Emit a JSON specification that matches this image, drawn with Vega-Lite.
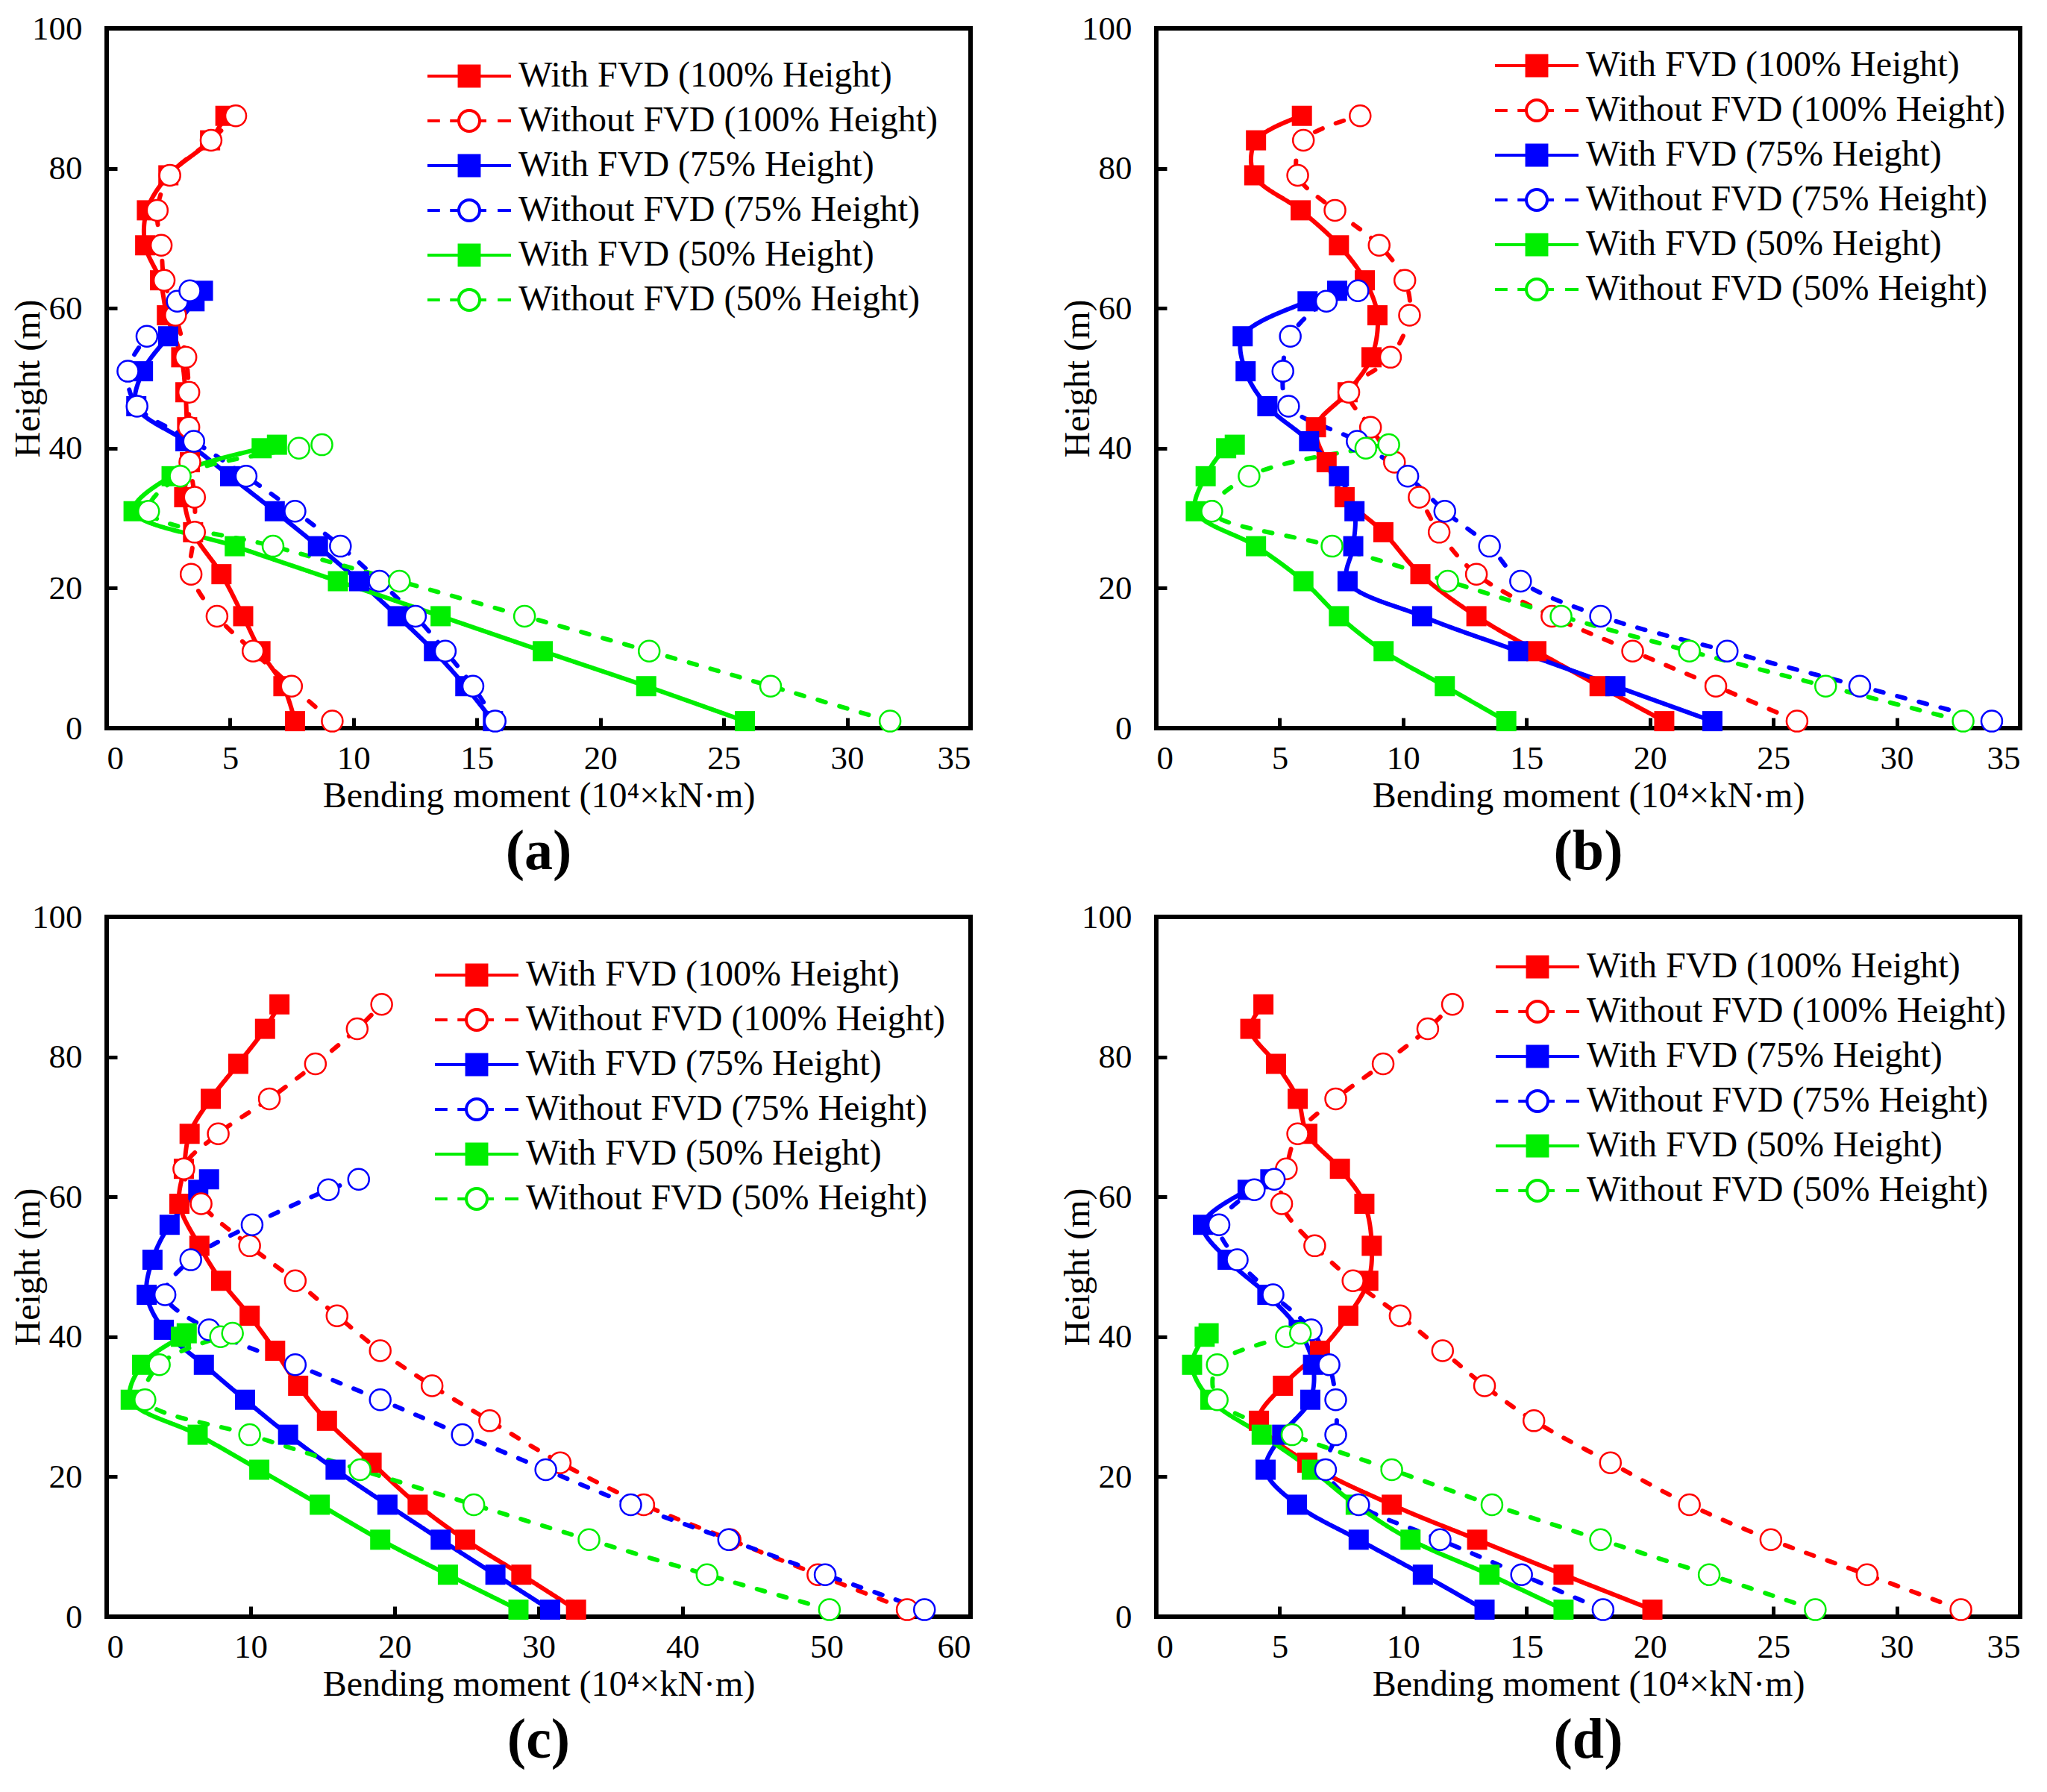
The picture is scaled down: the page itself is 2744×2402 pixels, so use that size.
{
  "$schema": "https://vega.github.io/schema/vega-lite/v6.json",
  "description": "Bending moment along height, with and without FVD, four cases",
  "background": "white",
  "padding": {"left": 11, "top": 13, "right": 5, "bottom": 5},
  "config": {
    "view": {"stroke": "black", "strokeWidth": 6},
    "axis": {
      "domain": false, "grid": false,
      "labelFont": "Liberation Serif", "labelFontSize": 45, "labelColor": "black",
      "titleFont": "Liberation Serif", "titleFontSize": 48, "titleFontWeight": "normal", "titleColor": "black",
      "tickColor": "black", "tickWidth": 5, "tickSize": -14
    },
    "axisX": {"labelPadding": 32, "titlePadding": 4},
    "axisY": {"labelPadding": 47, "titlePadding": -20},
    "legend": {
      "labelFont": "Liberation Serif", "labelFontSize": 48, "labelColor": "black", "labelLimit": 0,
      "symbolSize": 12544, "symbolStrokeWidth": 4, "symbolOpacity": 1,
      "labelOffset": 8, "clipHeight": 34, "rowPadding": 12
    },
    "title": {"font": "Liberation Serif", "fontSize": 76, "fontWeight": "bold", "color": "black", "orient": "bottom", "anchor": "middle", "offset": 14}
  },
  "data": {"values": [
    {"p":"a","k":"W100","h":1,"m":7.63},{"p":"a","k":"W100","h":6,"m":7.16},{"p":"a","k":"W100","h":11,"m":6.23},{"p":"a","k":"W100","h":16,"m":5.53},{"p":"a","k":"W100","h":22,"m":4.65},{"p":"a","k":"W100","h":28,"m":3.5},{"p":"a","k":"W100","h":33,"m":3.14},{"p":"a","k":"W100","h":38,"m":3.37},{"p":"a","k":"W100","h":43,"m":3.26},{"p":"a","k":"W100","h":48,"m":3.19},{"p":"a","k":"W100","h":53,"m":3.02},{"p":"a","k":"W100","h":59,"m":2.44},{"p":"a","k":"W100","h":64,"m":2.16},{"p":"a","k":"W100","h":69,"m":1.56},{"p":"a","k":"W100","h":74,"m":1.63},{"p":"a","k":"W100","h":79,"m":2.5},{"p":"a","k":"W100","h":84,"m":4.19},{"p":"a","k":"W100","h":87.5,"m":4.81},
    {"p":"a","k":"N100","h":1,"m":9.14},{"p":"a","k":"N100","h":6,"m":7.49},{"p":"a","k":"N100","h":11,"m":5.93},{"p":"a","k":"N100","h":16,"m":4.47},{"p":"a","k":"N100","h":22,"m":3.42},{"p":"a","k":"N100","h":28,"m":3.56},{"p":"a","k":"N100","h":33,"m":3.56},{"p":"a","k":"N100","h":38,"m":3.37},{"p":"a","k":"N100","h":43,"m":3.33},{"p":"a","k":"N100","h":48,"m":3.33},{"p":"a","k":"N100","h":53,"m":3.21},{"p":"a","k":"N100","h":59,"m":2.79},{"p":"a","k":"N100","h":64,"m":2.33},{"p":"a","k":"N100","h":69,"m":2.21},{"p":"a","k":"N100","h":74,"m":2.05},{"p":"a","k":"N100","h":79,"m":2.56},{"p":"a","k":"N100","h":84,"m":4.23},{"p":"a","k":"N100","h":87.5,"m":5.23},
    {"p":"a","k":"W75","h":1,"m":15.65},{"p":"a","k":"W75","h":6,"m":14.53},{"p":"a","k":"W75","h":11,"m":13.26},{"p":"a","k":"W75","h":16,"m":11.79},{"p":"a","k":"W75","h":21,"m":10.23},{"p":"a","k":"W75","h":26,"m":8.56},{"p":"a","k":"W75","h":31,"m":6.81},{"p":"a","k":"W75","h":36,"m":5.0},{"p":"a","k":"W75","h":41,"m":3.19},{"p":"a","k":"W75","h":46,"m":1.2},{"p":"a","k":"W75","h":51,"m":1.47},{"p":"a","k":"W75","h":56,"m":2.49},{"p":"a","k":"W75","h":61,"m":3.56},{"p":"a","k":"W75","h":62.5,"m":3.9},
    {"p":"a","k":"N75","h":1,"m":15.74},{"p":"a","k":"N75","h":6,"m":14.84},{"p":"a","k":"N75","h":11,"m":13.72},{"p":"a","k":"N75","h":16,"m":12.51},{"p":"a","k":"N75","h":21,"m":11.05},{"p":"a","k":"N75","h":26,"m":9.47},{"p":"a","k":"N75","h":31,"m":7.63},{"p":"a","k":"N75","h":36,"m":5.65},{"p":"a","k":"N75","h":41,"m":3.53},{"p":"a","k":"N75","h":46,"m":1.23},{"p":"a","k":"N75","h":51,"m":0.86},{"p":"a","k":"N75","h":56,"m":1.63},{"p":"a","k":"N75","h":61,"m":2.86},{"p":"a","k":"N75","h":62.5,"m":3.37},
    {"p":"a","k":"W50","h":1,"m":25.86},{"p":"a","k":"W50","h":6,"m":21.86},{"p":"a","k":"W50","h":11,"m":17.67},{"p":"a","k":"W50","h":16,"m":13.53},{"p":"a","k":"W50","h":21,"m":9.37},{"p":"a","k":"W50","h":26,"m":5.19},{"p":"a","k":"W50","h":31,"m":1.09},{"p":"a","k":"W50","h":36,"m":2.63},{"p":"a","k":"W50","h":40,"m":6.28},{"p":"a","k":"W50","h":40.5,"m":6.9},
    {"p":"a","k":"N50","h":1,"m":31.74},{"p":"a","k":"N50","h":6,"m":26.9},{"p":"a","k":"N50","h":11,"m":21.98},{"p":"a","k":"N50","h":16,"m":16.93},{"p":"a","k":"N50","h":21,"m":11.86},{"p":"a","k":"N50","h":26,"m":6.74},{"p":"a","k":"N50","h":31,"m":1.7},{"p":"a","k":"N50","h":36,"m":2.98},{"p":"a","k":"N50","h":40,"m":7.79},{"p":"a","k":"N50","h":40.5,"m":8.72},

    {"p":"b","k":"W100","h":1,"m":20.58},{"p":"b","k":"W100","h":6,"m":17.96},{"p":"b","k":"W100","h":11,"m":15.4},{"p":"b","k":"W100","h":16,"m":12.97},{"p":"b","k":"W100","h":22,"m":10.7},{"p":"b","k":"W100","h":28,"m":9.2},{"p":"b","k":"W100","h":33,"m":7.63},{"p":"b","k":"W100","h":38,"m":6.9},{"p":"b","k":"W100","h":43,"m":6.47},{"p":"b","k":"W100","h":48,"m":7.75},{"p":"b","k":"W100","h":53,"m":8.72},{"p":"b","k":"W100","h":59,"m":8.96},{"p":"b","k":"W100","h":64,"m":8.45},{"p":"b","k":"W100","h":69,"m":7.4},{"p":"b","k":"W100","h":74,"m":5.85},{"p":"b","k":"W100","h":79,"m":3.97},{"p":"b","k":"W100","h":84,"m":4.04},{"p":"b","k":"W100","h":87.5,"m":5.9},
    {"p":"b","k":"N100","h":1,"m":25.96},{"p":"b","k":"N100","h":6,"m":22.67},{"p":"b","k":"N100","h":11,"m":19.3},{"p":"b","k":"N100","h":16,"m":16.03},{"p":"b","k":"N100","h":22,"m":12.97},{"p":"b","k":"N100","h":28,"m":11.46},{"p":"b","k":"N100","h":33,"m":10.65},{"p":"b","k":"N100","h":38,"m":9.65},{"p":"b","k":"N100","h":43,"m":8.68},{"p":"b","k":"N100","h":48,"m":7.8},{"p":"b","k":"N100","h":53,"m":9.49},{"p":"b","k":"N100","h":59,"m":10.26},{"p":"b","k":"N100","h":64,"m":10.07},{"p":"b","k":"N100","h":69,"m":9.03},{"p":"b","k":"N100","h":74,"m":7.24},{"p":"b","k":"N100","h":79,"m":5.73},{"p":"b","k":"N100","h":84,"m":5.96},{"p":"b","k":"N100","h":87.5,"m":8.26},
    {"p":"b","k":"W75","h":1,"m":22.53},{"p":"b","k":"W75","h":6,"m":18.6},{"p":"b","k":"W75","h":11,"m":14.66},{"p":"b","k":"W75","h":16,"m":10.77},{"p":"b","k":"W75","h":21,"m":7.75},{"p":"b","k":"W75","h":26,"m":7.98},{"p":"b","k":"W75","h":31,"m":8.03},{"p":"b","k":"W75","h":36,"m":7.4},{"p":"b","k":"W75","h":41,"m":6.19},{"p":"b","k":"W75","h":46,"m":4.5},{"p":"b","k":"W75","h":51,"m":3.62},{"p":"b","k":"W75","h":56,"m":3.5},{"p":"b","k":"W75","h":61,"m":6.13},{"p":"b","k":"W75","h":62.5,"m":7.33},
    {"p":"b","k":"N75","h":1,"m":33.85},{"p":"b","k":"N75","h":6,"m":28.5},{"p":"b","k":"N75","h":11,"m":23.13},{"p":"b","k":"N75","h":16,"m":18.0},{"p":"b","k":"N75","h":21,"m":14.76},{"p":"b","k":"N75","h":26,"m":13.5},{"p":"b","k":"N75","h":31,"m":11.69},{"p":"b","k":"N75","h":36,"m":10.19},{"p":"b","k":"N75","h":41,"m":8.14},{"p":"b","k":"N75","h":46,"m":5.36},{"p":"b","k":"N75","h":51,"m":5.13},{"p":"b","k":"N75","h":56,"m":5.43},{"p":"b","k":"N75","h":61,"m":6.89},{"p":"b","k":"N75","h":62.5,"m":8.17},
    {"p":"b","k":"W50","h":1,"m":14.18},{"p":"b","k":"W50","h":6,"m":11.69},{"p":"b","k":"W50","h":11,"m":9.21},{"p":"b","k":"W50","h":16,"m":7.4},{"p":"b","k":"W50","h":21,"m":5.96},{"p":"b","k":"W50","h":26,"m":4.04},{"p":"b","k":"W50","h":31,"m":1.6},{"p":"b","k":"W50","h":36,"m":2.0},{"p":"b","k":"W50","h":40,"m":2.83},{"p":"b","k":"W50","h":40.5,"m":3.18},
    {"p":"b","k":"N50","h":1,"m":32.69},{"p":"b","k":"N50","h":6,"m":27.12},{"p":"b","k":"N50","h":11,"m":21.6},{"p":"b","k":"N50","h":16,"m":16.4},{"p":"b","k":"N50","h":21,"m":11.81},{"p":"b","k":"N50","h":26,"m":7.12},{"p":"b","k":"N50","h":31,"m":2.25},{"p":"b","k":"N50","h":36,"m":3.76},{"p":"b","k":"N50","h":40,"m":8.49},{"p":"b","k":"N50","h":40.5,"m":9.42},

    {"p":"c","k":"W100","h":1,"m":32.6},{"p":"c","k":"W100","h":6,"m":28.8},{"p":"c","k":"W100","h":11,"m":24.9},{"p":"c","k":"W100","h":16,"m":21.6},{"p":"c","k":"W100","h":22,"m":18.4},{"p":"c","k":"W100","h":28,"m":15.3},{"p":"c","k":"W100","h":33,"m":13.3},{"p":"c","k":"W100","h":38,"m":11.7},{"p":"c","k":"W100","h":43,"m":9.93},{"p":"c","k":"W100","h":48,"m":7.95},{"p":"c","k":"W100","h":53,"m":6.44},{"p":"c","k":"W100","h":59,"m":5.05},{"p":"c","k":"W100","h":64,"m":5.36},{"p":"c","k":"W100","h":69,"m":5.76},{"p":"c","k":"W100","h":74,"m":7.23},{"p":"c","k":"W100","h":79,"m":9.14},{"p":"c","k":"W100","h":84,"m":11.0},{"p":"c","k":"W100","h":87.5,"m":12.0},
    {"p":"c","k":"N100","h":1,"m":55.6},{"p":"c","k":"N100","h":6,"m":49.4},{"p":"c","k":"N100","h":11,"m":43.3},{"p":"c","k":"N100","h":16,"m":37.3},{"p":"c","k":"N100","h":22,"m":31.5},{"p":"c","k":"N100","h":28,"m":26.6},{"p":"c","k":"N100","h":33,"m":22.6},{"p":"c","k":"N100","h":38,"m":19.0},{"p":"c","k":"N100","h":43,"m":16.0},{"p":"c","k":"N100","h":48,"m":13.1},{"p":"c","k":"N100","h":53,"m":9.93},{"p":"c","k":"N100","h":59,"m":6.56},{"p":"c","k":"N100","h":64,"m":5.36},{"p":"c","k":"N100","h":69,"m":7.75},{"p":"c","k":"N100","h":74,"m":11.3},{"p":"c","k":"N100","h":79,"m":14.5},{"p":"c","k":"N100","h":84,"m":17.4},{"p":"c","k":"N100","h":87.5,"m":19.1},
    {"p":"c","k":"W75","h":1,"m":30.8},{"p":"c","k":"W75","h":6,"m":27.0},{"p":"c","k":"W75","h":11,"m":23.2},{"p":"c","k":"W75","h":16,"m":19.5},{"p":"c","k":"W75","h":21,"m":15.9},{"p":"c","k":"W75","h":26,"m":12.6},{"p":"c","k":"W75","h":31,"m":9.61},{"p":"c","k":"W75","h":36,"m":6.75},{"p":"c","k":"W75","h":41,"m":3.97},{"p":"c","k":"W75","h":46,"m":2.78},{"p":"c","k":"W75","h":51,"m":3.18},{"p":"c","k":"W75","h":56,"m":4.37},{"p":"c","k":"W75","h":61,"m":6.36},{"p":"c","k":"W75","h":62.5,"m":7.11},
    {"p":"c","k":"N75","h":1,"m":56.8},{"p":"c","k":"N75","h":6,"m":49.9},{"p":"c","k":"N75","h":11,"m":43.2},{"p":"c","k":"N75","h":16,"m":36.4},{"p":"c","k":"N75","h":21,"m":30.5},{"p":"c","k":"N75","h":26,"m":24.7},{"p":"c","k":"N75","h":31,"m":19.0},{"p":"c","k":"N75","h":36,"m":13.1},{"p":"c","k":"N75","h":41,"m":7.11},{"p":"c","k":"N75","h":46,"m":4.05},{"p":"c","k":"N75","h":51,"m":5.84},{"p":"c","k":"N75","h":56,"m":10.1},{"p":"c","k":"N75","h":61,"m":15.4},{"p":"c","k":"N75","h":62.5,"m":17.5},
    {"p":"c","k":"W50","h":1,"m":28.6},{"p":"c","k":"W50","h":6,"m":23.7},{"p":"c","k":"W50","h":11,"m":19.0},{"p":"c","k":"W50","h":16,"m":14.8},{"p":"c","k":"W50","h":21,"m":10.6},{"p":"c","k":"W50","h":26,"m":6.32},{"p":"c","k":"W50","h":31,"m":1.67},{"p":"c","k":"W50","h":36,"m":2.46},{"p":"c","k":"W50","h":40,"m":5.16},{"p":"c","k":"W50","h":40.5,"m":5.56},
    {"p":"c","k":"N50","h":1,"m":50.2},{"p":"c","k":"N50","h":6,"m":41.7},{"p":"c","k":"N50","h":11,"m":33.5},{"p":"c","k":"N50","h":16,"m":25.5},{"p":"c","k":"N50","h":21,"m":17.6},{"p":"c","k":"N50","h":26,"m":9.93},{"p":"c","k":"N50","h":31,"m":2.66},{"p":"c","k":"N50","h":36,"m":3.66},{"p":"c","k":"N50","h":40,"m":7.91},{"p":"c","k":"N50","h":40.5,"m":8.74},

    {"p":"d","k":"W100","h":1,"m":20.1},{"p":"d","k":"W100","h":6,"m":16.5},{"p":"d","k":"W100","h":11,"m":13.0},{"p":"d","k":"W100","h":16,"m":9.54},{"p":"d","k":"W100","h":22,"m":6.12},{"p":"d","k":"W100","h":28,"m":4.16},{"p":"d","k":"W100","h":33,"m":5.13},{"p":"d","k":"W100","h":38,"m":6.63},{"p":"d","k":"W100","h":43,"m":7.78},{"p":"d","k":"W100","h":48,"m":8.59},{"p":"d","k":"W100","h":53,"m":8.73},{"p":"d","k":"W100","h":59,"m":8.43},{"p":"d","k":"W100","h":64,"m":7.44},{"p":"d","k":"W100","h":69,"m":6.12},{"p":"d","k":"W100","h":74,"m":5.73},{"p":"d","k":"W100","h":79,"m":4.85},{"p":"d","k":"W100","h":84,"m":3.81},{"p":"d","k":"W100","h":87.5,"m":4.34},
    {"p":"d","k":"N100","h":1,"m":32.6},{"p":"d","k":"N100","h":6,"m":28.8},{"p":"d","k":"N100","h":11,"m":24.9},{"p":"d","k":"N100","h":16,"m":21.6},{"p":"d","k":"N100","h":22,"m":18.4},{"p":"d","k":"N100","h":28,"m":15.3},{"p":"d","k":"N100","h":33,"m":13.3},{"p":"d","k":"N100","h":38,"m":11.6},{"p":"d","k":"N100","h":43,"m":9.88},{"p":"d","k":"N100","h":48,"m":7.97},{"p":"d","k":"N100","h":53,"m":6.42},{"p":"d","k":"N100","h":59,"m":5.08},{"p":"d","k":"N100","h":64,"m":5.27},{"p":"d","k":"N100","h":69,"m":5.73},{"p":"d","k":"N100","h":74,"m":7.27},{"p":"d","k":"N100","h":79,"m":9.19},{"p":"d","k":"N100","h":84,"m":11.0},{"p":"d","k":"N100","h":87.5,"m":12.0},
    {"p":"d","k":"W75","h":1,"m":13.3},{"p":"d","k":"W75","h":6,"m":10.8},{"p":"d","k":"W75","h":11,"m":8.2},{"p":"d","k":"W75","h":16,"m":5.7},{"p":"d","k":"W75","h":21,"m":4.43},{"p":"d","k":"W75","h":26,"m":5.1},{"p":"d","k":"W75","h":31,"m":6.24},{"p":"d","k":"W75","h":36,"m":6.35},{"p":"d","k":"W75","h":41,"m":5.77},{"p":"d","k":"W75","h":46,"m":4.5},{"p":"d","k":"W75","h":51,"m":2.89},{"p":"d","k":"W75","h":56,"m":1.89},{"p":"d","k":"W75","h":61,"m":3.7},{"p":"d","k":"W75","h":62.5,"m":4.62},
    {"p":"d","k":"N75","h":1,"m":18.1},{"p":"d","k":"N75","h":6,"m":14.8},{"p":"d","k":"N75","h":11,"m":11.5},{"p":"d","k":"N75","h":16,"m":8.2},{"p":"d","k":"N75","h":21,"m":6.86},{"p":"d","k":"N75","h":26,"m":7.27},{"p":"d","k":"N75","h":31,"m":7.27},{"p":"d","k":"N75","h":36,"m":7.0},{"p":"d","k":"N75","h":41,"m":6.28},{"p":"d","k":"N75","h":46,"m":4.73},{"p":"d","k":"N75","h":51,"m":3.28},{"p":"d","k":"N75","h":56,"m":2.54},{"p":"d","k":"N75","h":61,"m":3.97},{"p":"d","k":"N75","h":62.5,"m":4.78},
    {"p":"d","k":"W50","h":1,"m":16.5},{"p":"d","k":"W50","h":6,"m":13.5},{"p":"d","k":"W50","h":11,"m":10.3},{"p":"d","k":"W50","h":16,"m":8.08},{"p":"d","k":"W50","h":21,"m":6.3},{"p":"d","k":"W50","h":26,"m":4.27},{"p":"d","k":"W50","h":31,"m":2.19},{"p":"d","k":"W50","h":36,"m":1.45},{"p":"d","k":"W50","h":40,"m":1.96},{"p":"d","k":"W50","h":40.5,"m":2.12},
    {"p":"d","k":"N50","h":1,"m":26.7},{"p":"d","k":"N50","h":6,"m":22.4},{"p":"d","k":"N50","h":11,"m":18.0},{"p":"d","k":"N50","h":16,"m":13.6},{"p":"d","k":"N50","h":21,"m":9.54},{"p":"d","k":"N50","h":26,"m":5.5},{"p":"d","k":"N50","h":31,"m":2.47},{"p":"d","k":"N50","h":36,"m":2.47},{"p":"d","k":"N50","h":40,"m":5.27},{"p":"d","k":"N50","h":40.5,"m":5.84}
  ]},
  "resolve": {"scale": {"color": "independent", "stroke": "independent", "fill": "independent", "shape": "independent", "strokeDash": "independent"}},
  "vconcat": [
    {"hconcat": [
      {
        "width": 1158, "height": 938,
        "title": "(a)",
        "transform": [{"filter": "datum.p == 'a'"}],
        "encoding": {
          "x": {"field": "m", "type": "quantitative", "scale": {"domain": [0, 35], "nice": false}, "axis": {"values": [0, 5, 10, 15, 20, 25, 30, 35], "title": "Bending moment (10⁴×kN·m)"}},
          "y": {"field": "h", "type": "quantitative", "scale": {"domain": [0, 100], "nice": false}, "axis": {"values": [0, 20, 40, 60, 80, 100], "title": "Height (m)"}}
        },
        "layer": [
          {"mark": {"type": "line", "interpolate": "catmull-rom", "strokeWidth": 6, "strokeCap": "round"},
           "encoding": {"order": {"field": "h"},
             "color": {"field": "k", "scale": {"domain": ["N100", "W100", "N75", "W75", "N50", "W50"], "range": ["#ff0000", "#ff0000", "#0000ff", "#0000ff", "#00ee00", "#00ee00"]}, "legend": null},
             "strokeDash": {"field": "k", "scale": {"domain": ["N100", "W100", "N75", "W75", "N50", "W50"], "range": [[11, 19], [1, 0], [11, 19], [1, 0], [11, 19], [1, 0]]}, "legend": null}}},
          {"transform": [{"filter": "substring(datum.k, 0, 1) == 'W'"}],
           "mark": {"type": "point", "shape": "square", "filled": true, "size": 729, "opacity": 1},
           "encoding": {"color": {"field": "k", "scale": {"domain": ["N100", "W100", "N75", "W75", "N50", "W50"], "range": ["#ff0000", "#ff0000", "#0000ff", "#0000ff", "#00ee00", "#00ee00"]}, "legend": null}}},
          {"transform": [{"filter": "substring(datum.k, 0, 1) == 'N'"}],
           "mark": {"type": "point", "shape": "circle", "filled": true, "fill": "white", "strokeWidth": 2.5, "size": 784, "opacity": 1},
           "encoding": {"stroke": {"field": "k", "scale": {"domain": ["W100", "N100", "W75", "N75", "W50", "N50"], "range": ["#ff0000", "#ff0000", "#0000ff", "#0000ff", "#00ee00", "#00ee00"]}}}},
          {"transform": [{"filter": "false"}],
           "mark": {"type": "point", "filled": true, "opacity": 1},
           "encoding": {
             "shape": {"field": "k", "scale": {"domain": ["W100", "N100", "W75", "N75", "W50", "N50"], "range": ["M-1,0H1M-0.24,-0.24H0.24V0.24H-0.24Z", "M-1,0H-0.7M-0.46,0H-0.25M0.25,0H0.41M0.68,0H1M0.25,0A0.25,0.25,0,1,1,-0.25,0A0.25,0.25,0,1,1,0.25,0Z", "M-1,0H1M-0.24,-0.24H0.24V0.24H-0.24Z", "M-1,0H-0.7M-0.46,0H-0.25M0.25,0H0.41M0.68,0H1M0.25,0A0.25,0.25,0,1,1,-0.25,0A0.25,0.25,0,1,1,0.25,0Z", "M-1,0H1M-0.24,-0.24H0.24V0.24H-0.24Z", "M-1,0H-0.7M-0.46,0H-0.25M0.25,0H0.41M0.68,0H1M0.25,0A0.25,0.25,0,1,1,-0.25,0A0.25,0.25,0,1,1,0.25,0Z"]},
               "legend": {"title": null, "orient": "none", "legendX": 428, "legendY": 47, "symbolOpacity": 1, "labelExpr": "datum.label == 'W100' ? 'With FVD (100% Height)' : datum.label == 'N100' ? 'Without FVD (100% Height)' : datum.label == 'W75' ? 'With FVD (75% Height)' : datum.label == 'N75' ? 'Without FVD (75% Height)' : datum.label == 'W50' ? 'With FVD (50% Height)' : 'Without FVD (50% Height)'"}},
             "stroke": {"field": "k", "scale": {"domain": ["W100", "N100", "W75", "N75", "W50", "N50"], "range": ["#ff0000", "#ff0000", "#0000ff", "#0000ff", "#00ee00", "#00ee00"]}},
             "fill": {"field": "k", "scale": {"domain": ["W100", "N100", "W75", "N75", "W50", "N50"], "range": ["#ff0000", "white", "#0000ff", "white", "#00ee00", "white"]}}
           }}
        ]
      },
      {
        "width": 1158, "height": 938,
        "title": "(b)",
        "transform": [{"filter": "datum.p == 'b'"}],
        "encoding": {
          "x": {"field": "m", "type": "quantitative", "scale": {"domain": [0, 35], "nice": false}, "axis": {"values": [0, 5, 10, 15, 20, 25, 30, 35], "title": "Bending moment (10⁴×kN·m)"}},
          "y": {"field": "h", "type": "quantitative", "scale": {"domain": [0, 100], "nice": false}, "axis": {"values": [0, 20, 40, 60, 80, 100], "title": "Height (m)"}}
        },
        "layer": [
          {"mark": {"type": "line", "interpolate": "catmull-rom", "strokeWidth": 6, "strokeCap": "round"},
           "encoding": {"order": {"field": "h"},
             "color": {"field": "k", "scale": {"domain": ["N100", "W100", "N75", "W75", "N50", "W50"], "range": ["#ff0000", "#ff0000", "#0000ff", "#0000ff", "#00ee00", "#00ee00"]}, "legend": null},
             "strokeDash": {"field": "k", "scale": {"domain": ["N100", "W100", "N75", "W75", "N50", "W50"], "range": [[11, 19], [1, 0], [11, 19], [1, 0], [11, 19], [1, 0]]}, "legend": null}}},
          {"transform": [{"filter": "substring(datum.k, 0, 1) == 'W'"}],
           "mark": {"type": "point", "shape": "square", "filled": true, "size": 729, "opacity": 1},
           "encoding": {"color": {"field": "k", "scale": {"domain": ["N100", "W100", "N75", "W75", "N50", "W50"], "range": ["#ff0000", "#ff0000", "#0000ff", "#0000ff", "#00ee00", "#00ee00"]}, "legend": null}}},
          {"transform": [{"filter": "substring(datum.k, 0, 1) == 'N'"}],
           "mark": {"type": "point", "shape": "circle", "filled": true, "fill": "white", "strokeWidth": 2.5, "size": 784, "opacity": 1},
           "encoding": {"stroke": {"field": "k", "scale": {"domain": ["W100", "N100", "W75", "N75", "W50", "N50"], "range": ["#ff0000", "#ff0000", "#0000ff", "#0000ff", "#00ee00", "#00ee00"]}}}},
          {"transform": [{"filter": "false"}],
           "mark": {"type": "point", "filled": true, "opacity": 1},
           "encoding": {
             "shape": {"field": "k", "scale": {"domain": ["W100", "N100", "W75", "N75", "W50", "N50"], "range": ["M-1,0H1M-0.24,-0.24H0.24V0.24H-0.24Z", "M-1,0H-0.7M-0.46,0H-0.25M0.25,0H0.41M0.68,0H1M0.25,0A0.25,0.25,0,1,1,-0.25,0A0.25,0.25,0,1,1,0.25,0Z", "M-1,0H1M-0.24,-0.24H0.24V0.24H-0.24Z", "M-1,0H-0.7M-0.46,0H-0.25M0.25,0H0.41M0.68,0H1M0.25,0A0.25,0.25,0,1,1,-0.25,0A0.25,0.25,0,1,1,0.25,0Z", "M-1,0H1M-0.24,-0.24H0.24V0.24H-0.24Z", "M-1,0H-0.7M-0.46,0H-0.25M0.25,0H0.41M0.68,0H1M0.25,0A0.25,0.25,0,1,1,-0.25,0A0.25,0.25,0,1,1,0.25,0Z"]},
               "legend": {"title": null, "orient": "none", "legendX": 452, "legendY": 33, "symbolOpacity": 1, "labelExpr": "datum.label == 'W100' ? 'With FVD (100% Height)' : datum.label == 'N100' ? 'Without FVD (100% Height)' : datum.label == 'W75' ? 'With FVD (75% Height)' : datum.label == 'N75' ? 'Without FVD (75% Height)' : datum.label == 'W50' ? 'With FVD (50% Height)' : 'Without FVD (50% Height)'"}},
             "stroke": {"field": "k", "scale": {"domain": ["W100", "N100", "W75", "N75", "W50", "N50"], "range": ["#ff0000", "#ff0000", "#0000ff", "#0000ff", "#00ee00", "#00ee00"]}},
             "fill": {"field": "k", "scale": {"domain": ["W100", "N100", "W75", "N75", "W50", "N50"], "range": ["#ff0000", "white", "#0000ff", "white", "#00ee00", "white"]}}
           }}
        ]
      }
    ], "spacing": 111,
    "resolve": {"scale": {"color": "independent", "stroke": "independent", "fill": "independent", "shape": "independent", "strokeDash": "independent"}}},
    {"hconcat": [
      {
        "width": 1158, "height": 938,
        "title": "(c)",
        "transform": [{"filter": "datum.p == 'c'"}],
        "encoding": {
          "x": {"field": "m", "type": "quantitative", "scale": {"domain": [0, 60], "nice": false}, "axis": {"values": [0, 10, 20, 30, 40, 50, 60], "title": "Bending moment (10⁴×kN·m)"}},
          "y": {"field": "h", "type": "quantitative", "scale": {"domain": [0, 100], "nice": false}, "axis": {"values": [0, 20, 40, 60, 80, 100], "title": "Height (m)"}}
        },
        "layer": [
          {"mark": {"type": "line", "interpolate": "catmull-rom", "strokeWidth": 6, "strokeCap": "round"},
           "encoding": {"order": {"field": "h"},
             "color": {"field": "k", "scale": {"domain": ["N100", "W100", "N75", "W75", "N50", "W50"], "range": ["#ff0000", "#ff0000", "#0000ff", "#0000ff", "#00ee00", "#00ee00"]}, "legend": null},
             "strokeDash": {"field": "k", "scale": {"domain": ["N100", "W100", "N75", "W75", "N50", "W50"], "range": [[11, 19], [1, 0], [11, 19], [1, 0], [11, 19], [1, 0]]}, "legend": null}}},
          {"transform": [{"filter": "substring(datum.k, 0, 1) == 'W'"}],
           "mark": {"type": "point", "shape": "square", "filled": true, "size": 729, "opacity": 1},
           "encoding": {"color": {"field": "k", "scale": {"domain": ["N100", "W100", "N75", "W75", "N50", "W50"], "range": ["#ff0000", "#ff0000", "#0000ff", "#0000ff", "#00ee00", "#00ee00"]}, "legend": null}}},
          {"transform": [{"filter": "substring(datum.k, 0, 1) == 'N'"}],
           "mark": {"type": "point", "shape": "circle", "filled": true, "fill": "white", "strokeWidth": 2.5, "size": 784, "opacity": 1},
           "encoding": {"stroke": {"field": "k", "scale": {"domain": ["W100", "N100", "W75", "N75", "W50", "N50"], "range": ["#ff0000", "#ff0000", "#0000ff", "#0000ff", "#00ee00", "#00ee00"]}}}},
          {"transform": [{"filter": "false"}],
           "mark": {"type": "point", "filled": true, "opacity": 1},
           "encoding": {
             "shape": {"field": "k", "scale": {"domain": ["W100", "N100", "W75", "N75", "W50", "N50"], "range": ["M-1,0H1M-0.24,-0.24H0.24V0.24H-0.24Z", "M-1,0H-0.7M-0.46,0H-0.25M0.25,0H0.41M0.68,0H1M0.25,0A0.25,0.25,0,1,1,-0.25,0A0.25,0.25,0,1,1,0.25,0Z", "M-1,0H1M-0.24,-0.24H0.24V0.24H-0.24Z", "M-1,0H-0.7M-0.46,0H-0.25M0.25,0H0.41M0.68,0H1M0.25,0A0.25,0.25,0,1,1,-0.25,0A0.25,0.25,0,1,1,0.25,0Z", "M-1,0H1M-0.24,-0.24H0.24V0.24H-0.24Z", "M-1,0H-0.7M-0.46,0H-0.25M0.25,0H0.41M0.68,0H1M0.25,0A0.25,0.25,0,1,1,-0.25,0A0.25,0.25,0,1,1,0.25,0Z"]},
               "legend": {"title": null, "orient": "none", "legendX": 438, "legendY": 61, "symbolOpacity": 1, "labelExpr": "datum.label == 'W100' ? 'With FVD (100% Height)' : datum.label == 'N100' ? 'Without FVD (100% Height)' : datum.label == 'W75' ? 'With FVD (75% Height)' : datum.label == 'N75' ? 'Without FVD (75% Height)' : datum.label == 'W50' ? 'With FVD (50% Height)' : 'Without FVD (50% Height)'"}},
             "stroke": {"field": "k", "scale": {"domain": ["W100", "N100", "W75", "N75", "W50", "N50"], "range": ["#ff0000", "#ff0000", "#0000ff", "#0000ff", "#00ee00", "#00ee00"]}},
             "fill": {"field": "k", "scale": {"domain": ["W100", "N100", "W75", "N75", "W50", "N50"], "range": ["#ff0000", "white", "#0000ff", "white", "#00ee00", "white"]}}
           }}
        ]
      },
      {
        "width": 1158, "height": 938,
        "title": "(d)",
        "transform": [{"filter": "datum.p == 'd'"}],
        "encoding": {
          "x": {"field": "m", "type": "quantitative", "scale": {"domain": [0, 35], "nice": false}, "axis": {"values": [0, 5, 10, 15, 20, 25, 30, 35], "title": "Bending moment (10⁴×kN·m)"}},
          "y": {"field": "h", "type": "quantitative", "scale": {"domain": [0, 100], "nice": false}, "axis": {"values": [0, 20, 40, 60, 80, 100], "title": "Height (m)"}}
        },
        "layer": [
          {"mark": {"type": "line", "interpolate": "catmull-rom", "strokeWidth": 6, "strokeCap": "round"},
           "encoding": {"order": {"field": "h"},
             "color": {"field": "k", "scale": {"domain": ["N100", "W100", "N75", "W75", "N50", "W50"], "range": ["#ff0000", "#ff0000", "#0000ff", "#0000ff", "#00ee00", "#00ee00"]}, "legend": null},
             "strokeDash": {"field": "k", "scale": {"domain": ["N100", "W100", "N75", "W75", "N50", "W50"], "range": [[11, 19], [1, 0], [11, 19], [1, 0], [11, 19], [1, 0]]}, "legend": null}}},
          {"transform": [{"filter": "substring(datum.k, 0, 1) == 'W'"}],
           "mark": {"type": "point", "shape": "square", "filled": true, "size": 729, "opacity": 1},
           "encoding": {"color": {"field": "k", "scale": {"domain": ["N100", "W100", "N75", "W75", "N50", "W50"], "range": ["#ff0000", "#ff0000", "#0000ff", "#0000ff", "#00ee00", "#00ee00"]}, "legend": null}}},
          {"transform": [{"filter": "substring(datum.k, 0, 1) == 'N'"}],
           "mark": {"type": "point", "shape": "circle", "filled": true, "fill": "white", "strokeWidth": 2.5, "size": 784, "opacity": 1},
           "encoding": {"stroke": {"field": "k", "scale": {"domain": ["W100", "N100", "W75", "N75", "W50", "N50"], "range": ["#ff0000", "#ff0000", "#0000ff", "#0000ff", "#00ee00", "#00ee00"]}}}},
          {"transform": [{"filter": "false"}],
           "mark": {"type": "point", "filled": true, "opacity": 1},
           "encoding": {
             "shape": {"field": "k", "scale": {"domain": ["W100", "N100", "W75", "N75", "W50", "N50"], "range": ["M-1,0H1M-0.24,-0.24H0.24V0.24H-0.24Z", "M-1,0H-0.7M-0.46,0H-0.25M0.25,0H0.41M0.68,0H1M0.25,0A0.25,0.25,0,1,1,-0.25,0A0.25,0.25,0,1,1,0.25,0Z", "M-1,0H1M-0.24,-0.24H0.24V0.24H-0.24Z", "M-1,0H-0.7M-0.46,0H-0.25M0.25,0H0.41M0.68,0H1M0.25,0A0.25,0.25,0,1,1,-0.25,0A0.25,0.25,0,1,1,0.25,0Z", "M-1,0H1M-0.24,-0.24H0.24V0.24H-0.24Z", "M-1,0H-0.7M-0.46,0H-0.25M0.25,0H0.41M0.68,0H1M0.25,0A0.25,0.25,0,1,1,-0.25,0A0.25,0.25,0,1,1,0.25,0Z"]},
               "legend": {"title": null, "orient": "none", "legendX": 453, "legendY": 50, "symbolOpacity": 1, "labelExpr": "datum.label == 'W100' ? 'With FVD (100% Height)' : datum.label == 'N100' ? 'Without FVD (100% Height)' : datum.label == 'W75' ? 'With FVD (75% Height)' : datum.label == 'N75' ? 'Without FVD (75% Height)' : datum.label == 'W50' ? 'With FVD (50% Height)' : 'Without FVD (50% Height)'"}},
             "stroke": {"field": "k", "scale": {"domain": ["W100", "N100", "W75", "N75", "W50", "N50"], "range": ["#ff0000", "#ff0000", "#0000ff", "#0000ff", "#00ee00", "#00ee00"]}},
             "fill": {"field": "k", "scale": {"domain": ["W100", "N100", "W75", "N75", "W50", "N50"], "range": ["#ff0000", "white", "#0000ff", "white", "#00ee00", "white"]}}
           }}
        ]
      }
    ], "spacing": 111,
    "resolve": {"scale": {"color": "independent", "stroke": "independent", "fill": "independent", "shape": "independent", "strokeDash": "independent"}}}
  ],
  "spacing": 21
}
